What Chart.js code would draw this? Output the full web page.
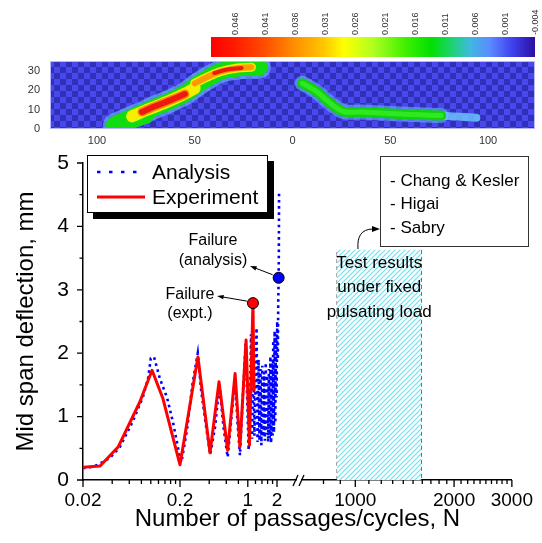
<!DOCTYPE html>
<html><head><meta charset="utf-8">
<script src="https://cdn.jsdelivr.net/npm/chart.js@4.4.1/dist/chart.umd.min.js"></script>
<style>
html,body{margin:0;padding:0;background:#fff;}
#wrap{position:relative;width:542px;height:543px;overflow:hidden;background:#fff;}
#wrap canvas{position:absolute;left:0;}
</style></head><body>
<div id="wrap">
<canvas id="main" width="542" height="543" style="top:0"></canvas>
<canvas id="heat" width="542" height="100" style="top:55px"></canvas>
<canvas id="cb" width="542" height="60" style="top:0"></canvas>
</div>
<script>
// ---------------- DATA ----------------
// Experiment (red solid)
const expX = [0.02,0.03,0.046,0.077,0.103,0.133,0.2,0.306,0.408,0.505,0.62,0.74,0.83,0.96,1.04,1.13,1.16];
const expY = [0.2,0.22,0.52,1.23,1.73,1.29,0.24,1.94,0.43,1.55,0.47,1.68,0.52,2.21,0.55,2.79,1.4];
// Analysis (blue dotted)
const anaX = [0.02,0.0225,0.0285,0.038,0.048,0.065,0.083,0.094,0.1,0.108,0.124,0.147,0.17,0.2,0.207,
  0.236,0.27,0.305,0.33,0.38,0.41,0.46,0.51,0.56,0.62,0.67,0.74,0.78,0.83,0.88,0.95,0.99,1.02,
  1.05,1.08,1.11,1.14,1.17,1.2,1.23,1.26,1.29,1.32,1.35,1.38,1.41,1.44,1.47,1.5,1.53,1.56,1.59,1.62,
  1.65,1.68,1.71,1.74,1.77,1.8,1.83,1.86,1.89,1.92,1.95,1.98,2.01,2.04,2.06,2.08,2.09,2.1];
const anaY = [0.19,0.19,0.24,0.35,0.52,0.92,1.31,1.61,1.92,1.94,1.6,1.3,0.9,0.35,0.28,
  0.79,1.53,2.0,1.42,0.74,0.4,0.84,1.5,0.85,0.36,0.9,1.62,0.95,0.39,1.2,2.15,1.2,0.47,
  1.1,2.3,0.65,2.15,0.7,1.5,2.4,0.6,1.9,0.62,1.75,0.55,1.8,0.68,1.7,0.62,1.85,0.72,1.65,0.6,
  1.75,0.66,1.95,0.58,1.9,0.7,2.2,0.75,2.35,0.9,2.3,1.3,2.5,1.9,2.8,3.19,3.6,4.55];
// Failure points
const failAnalysis = {x: 2.08, y: 3.19};
const failExpt = {x: 1.13, y: 2.79};
// Fixed pulsating load test band (right axis, cycles)
const bandX = [880, 1590];
const bandTop = 3.63;
// Tick values / labels
const yTicks = [0,0.5,1,1.5,2,2.5,3,3.5,4,4.5,5];
const yLabels = [0,1,2,3,4,5];
const xLeftTicks = [0.02,0.04,0.06,0.08,0.1,0.12,0.14,0.16,0.18,0.2,0.4,0.6,0.8,1,1.2,1.4,1.6,1.8,2];
const xLeftLabels = [0.02,0.2,1,2];
const xRightTicks = [800,900,1000,1100,1200,1300,1400,1500,1600,1700,1800,1900,2000,2100,2200,2300,2400,2500,2600,2700,2800,2900,3000];
const xRightLabels = [1000,2000,3000];
// Heat map inset (strain bands), x in mm (-124..124), y in mm (0..35)
const heatXTicks = [-100,-50,0,50,100];
const heatYTicks = [0,10,20,30];
const leftBandX = [-91,-85,-78,-72,-63,-55,-49,-42,-35,-26,-17];
const leftBandY = [2,4.8,7.8,10.5,14.3,18.2,22.6,27,30.3,31.6,31.8];
const leftTailX = [-90,-82,-74];
const leftTailY = [1.5,3,5.5];
const leftYellowX = [-82,-74,-64,-55,-50];
const leftYellowY = [6.5,10,14,18.2,21];
const leftRedX = [-77,-70,-62,-55];
const leftRedY = [8.8,11.8,15,18];
const upYellowX = [-50,-44,-37,-28,-21];
const upYellowY = [23.5,26.5,29.5,31.4,31.8];
const upRedX = [-40,-34,-26];
const upRedY = [28.8,30.5,31.4];
const rightBandX = [5,12,19,26,35,50,65,76];
const rightBandY = [23.5,19.5,13.5,9,8.7,8,7.3,6.9];
const rightTailX = [70,82,94];
const rightTailY = [7.1,6.5,5.8];
// Colour bar
const cbTicks = [0.046,0.041,0.036,0.031,0.026,0.021,0.016,0.011,0.006,0.001,-0.004];
const cbMin = -0.004, cbMax = 0.05;

// ---------------- HELPERS ----------------
Chart.defaults.font.family = '"Liberation Sans", Arial, Helvetica, sans-serif';
Chart.defaults.color = '#000';
const FONT = '"Liberation Sans", Arial, Helvetica, sans-serif';
const pts = (xs, ys) => xs.map((x, i) => ({x, y: ys[i]}));
const noPad = s => { s.paddingLeft = 0; s.paddingRight = 0; s.paddingTop = 0; s.paddingBottom = 0; };

function hatchPattern() {
  const c = document.createElement('canvas'); c.width = 5; c.height = 5;
  const g = c.getContext('2d');
  g.fillStyle = '#ffffff'; g.fillRect(0, 0, 5, 5);
  g.strokeStyle = '#6fe2ee'; g.lineWidth = 1.2;
  g.beginPath();
  g.moveTo(0, 5); g.lineTo(5, 0);
  g.moveTo(-1, 1); g.lineTo(1, -1);
  g.moveTo(4, 6); g.lineTo(6, 4);
  g.stroke();
  return g.createPattern(c, 'repeat');
}
function checkerPattern(ctx) {
  const c = document.createElement('canvas'); c.width = 12; c.height = 12;
  const g = c.getContext('2d');
  g.fillStyle = '#4848ee'; g.fillRect(0, 0, 12, 12);
  g.fillStyle = '#3030b8'; g.fillRect(0, 0, 6, 6); g.fillRect(6, 6, 6, 6);
  return ctx.createPattern(c, 'repeat');
}
function arrow(ctx, x1, y1, x2, y2, head) {
  head = head || 7;
  const a = Math.atan2(y2 - y1, x2 - x1);
  ctx.beginPath(); ctx.moveTo(x1, y1);
  ctx.lineTo(x2 - Math.cos(a) * head * 0.7, y2 - Math.sin(a) * head * 0.7); ctx.stroke();
  ctx.beginPath(); ctx.moveTo(x2, y2);
  ctx.lineTo(x2 - head * Math.cos(a - 0.33), y2 - head * Math.sin(a - 0.33));
  ctx.lineTo(x2 - head * Math.cos(a + 0.33), y2 - head * Math.sin(a + 0.33));
  ctx.closePath(); ctx.fill();
}

// ---------------- MAIN CHART ----------------
const SPLIT_L = 296, SPLIT_R = 302;

const brokenAxis = {
  id: 'brokenAxis',
  afterLayout(chart) {
    const a = chart.chartArea;
    const xL = chart.scales.xL, xR = chart.scales.xR, xT = chart.scales.xT;
    xL.left = a.left; xL.right = SPLIT_L; xL.width = SPLIT_L - a.left;
    xL.top = a.bottom; xL.bottom = a.bottom + 35; xL.height = 35;
    xR.left = SPLIT_R; xR.right = a.right; xR.width = a.right - SPLIT_R;
    xR.top = a.bottom; xR.bottom = a.bottom + 35; xR.height = 35;
    xT.left = a.left; xT.right = a.right; xT.width = a.right - a.left;
    xT.top = a.bottom + 35; xT.bottom = chart.height; xT.height = chart.height - a.bottom - 35;
    [xL, xR, xT].forEach(s => { s._gridLineItems = null; s._labelItems = null; s.configure(); });
  }
};

const tickMarks = {
  id: 'tickMarks',
  afterDraw(chart) {
    const ctx = chart.ctx, y = chart.scales.y;
    ctx.save();
    ctx.strokeStyle = '#000'; ctx.lineWidth = 1.3;
    ctx.beginPath();
    y.ticks.forEach(t => {
      const p = y.getPixelForValue(t.value);
      const len = yLabels.includes(t.value) ? 6 : 3.5;
      ctx.moveTo(y.right - len, p); ctx.lineTo(y.right, p);
    });
    [['xL', xLeftLabels], ['xR', xRightLabels]].forEach(([id, majors]) => {
      const s = chart.scales[id];
      s.ticks.forEach(t => {
        const p = s.getPixelForValue(t.value);
        const len = majors.includes(t.value) ? 7 : 4;
        ctx.moveTo(p, s.top); ctx.lineTo(p, s.top + len);
      });
    });
    ctx.stroke();
    // axis break marks
    const yb = chart.scales.xL.top;
    ctx.lineWidth = 1.3;
    ctx.beginPath();
    ctx.moveTo(SPLIT_L - 3, yb + 6); ctx.lineTo(SPLIT_L + 2, yb - 5);
    ctx.moveTo(SPLIT_R - 3, yb + 6); ctx.lineTo(SPLIT_R + 2, yb - 5);
    ctx.stroke();
    ctx.restore();
  }
};

const boxLegend = {
  id: 'boxLegend',
  afterDraw(chart) {
    const ctx = chart.ctx;
    const L = 87, T = 155, W = 181, H = 58;
    ctx.save();
    ctx.fillStyle = '#000'; ctx.fillRect(L + 6, T + 6, W, H);
    ctx.fillStyle = '#fff'; ctx.fillRect(L, T, W, H);
    ctx.strokeStyle = '#000'; ctx.lineWidth = 1; ctx.strokeRect(L + 0.5, T + 0.5, W - 1, H - 1);
    const items = ['Analysis', 'Experiment'];
    const rows = [172, 197];
    items.forEach((lab, i) => {
      const ds = chart.data.datasets.find(d => d.label === lab);
      ctx.strokeStyle = ds.borderColor; ctx.lineWidth = ds.borderWidth;
      ctx.setLineDash(ds.borderDash ? [3.5, 8.5] : []);
      ctx.beginPath(); ctx.moveTo(L + 10, rows[i]); ctx.lineTo(L + 58, rows[i]); ctx.stroke();
      ctx.setLineDash([]);
      ctx.fillStyle = '#000'; ctx.font = '21px ' + FONT;
      ctx.textAlign = 'left'; ctx.textBaseline = 'middle';
      ctx.fillText(lab, L + 65, rows[i] + 1);
    });
    ctx.restore();
  }
};

const notes = {
  id: 'notes',
  afterDraw(chart) {
    const ctx = chart.ctx, xL = chart.scales.xL, xR = chart.scales.xR, y = chart.scales.y;
    ctx.save();
    ctx.fillStyle = '#000'; ctx.strokeStyle = '#000'; ctx.lineWidth = 1;
    ctx.textAlign = 'center'; ctx.textBaseline = 'middle';
    ctx.font = '16px ' + FONT;
    ctx.fillText('Failure', 213, 241); ctx.fillText('(analysis)', 213, 261);
    ctx.fillText('Failure', 190, 295); ctx.fillText('(expt.)', 190, 314);
    const ax = xL.getPixelForValue(failAnalysis.x), ay = y.getPixelForValue(failAnalysis.y);
    const ex = xL.getPixelForValue(failExpt.x), ey = y.getPixelForValue(failExpt.y);
    arrow(ctx, ax - 6, ay - 3, 250, 266, 7);
    arrow(ctx, ex - 6, ey - 2, 217, 296, 7);
    // Reference box
    ctx.fillStyle = '#fff'; ctx.fillRect(380, 156, 149, 91);
    ctx.strokeStyle = '#333'; ctx.strokeRect(380.5, 156.5, 148, 90);
    ctx.fillStyle = '#000'; ctx.font = '17px ' + FONT; ctx.textAlign = 'left';
    ctx.fillText('- Chang & Kesler', 390, 181);
    ctx.fillText('- Higai', 390, 204);
    ctx.fillText('- Sabry', 390, 228);
    // curved arrow
    ctx.strokeStyle = '#000'; ctx.lineWidth = 1;
    ctx.beginPath(); ctx.moveTo(358, 249);
    ctx.bezierCurveTo(357, 237, 361, 229, 373, 229); ctx.stroke();
    ctx.beginPath(); ctx.moveTo(380, 229); ctx.lineTo(372, 226); ctx.lineTo(372, 232); ctx.closePath(); ctx.fill();
    // band text
    const cx = (xR.getPixelForValue(bandX[0]) + xR.getPixelForValue(bandX[1])) / 2;
    ctx.textAlign = 'center'; ctx.font = '17px ' + FONT;
    ctx.fillText('Test results', cx, 263);
    ctx.fillText('under fixed', cx, 287);
    ctx.fillText('pulsating load', cx, 312);
    ctx.restore();
  }
};

new Chart(document.getElementById('main'), {
  type: 'line',
  data: {
    datasets: [
      {label: 'Failure (analysis)', xAxisID: 'xL', yAxisID: 'y', data: [failAnalysis], showLine: false,
        pointRadius: 5.5, pointBackgroundColor: '#0000ff', pointBorderColor: '#000', pointBorderWidth: 1},
      {label: 'Failure (expt.)', xAxisID: 'xL', yAxisID: 'y', data: [failExpt], showLine: false,
        pointRadius: 5.5, pointBackgroundColor: '#ff0000', pointBorderColor: '#000', pointBorderWidth: 1},
      {label: 'Experiment', xAxisID: 'xL', yAxisID: 'y', data: pts(expX, expY),
        borderColor: '#ff0000', borderWidth: 3, pointRadius: 0, tension: 0, borderJoinStyle: 'round'},
      {label: 'Analysis', xAxisID: 'xL', yAxisID: 'y', data: pts(anaX, anaY),
        borderColor: '#0000ff', borderWidth: 2.6, borderDash: [2.6, 3.6], pointRadius: 0, tension: 0},
      {label: 'Fixed load tests', xAxisID: 'xR', yAxisID: 'y',
        data: [{x: bandX[0], y: bandTop}, {x: bandX[1], y: bandTop}],
        fill: 'origin', backgroundColor: hatchPattern(), borderWidth: 0, pointRadius: 0},
      {label: 'Band edges', xAxisID: 'xR', yAxisID: 'y',
        data: [{x: bandX[0], y: 0}, {x: bandX[0], y: bandTop}, {x: bandX[1], y: null}, {x: bandX[1], y: bandTop}, {x: bandX[1], y: 0}],
        borderColor: '#444', borderWidth: 1, borderDash: [4, 3], pointRadius: 0, spanGaps: false, fill: false}
    ]
  },
  options: {
    responsive: false, animation: false, events: [],
    layout: {padding: {left: 0, top: 163, right: 27, bottom: 0}},
    plugins: {legend: {display: false}, tooltip: {enabled: false}},
    scales: {
      y: {type: 'linear', position: 'left', min: 0, max: 5,
        afterBuildTicks: s => { s.ticks = yTicks.map(v => ({value: v})); },
        ticks: {callback: v => yLabels.includes(v) ? String(v) : '', font: {size: 21}, color: '#000', padding: 14, autoSkip: false},
        grid: {display: true, drawOnChartArea: false, drawTicks: false},
        border: {display: true, color: '#000', width: 1.5},
        title: {display: true, text: 'Mid span deflection, mm', font: {size: 24}, color: '#000', padding: {top: 12, bottom: 0}},
        afterFit: s => { s.width = 83; }
      },
      xL: {type: 'logarithmic', position: 'bottom', min: 0.02, max: 3.14, bounds: 'data',
        afterBuildTicks: s => { s.ticks = xLeftTicks.map(v => ({value: v})); },
        ticks: {callback: v => xLeftLabels.includes(v) ? String(v) : '', font: {size: 19}, color: '#000', padding: 9, autoSkip: false, maxRotation: 0},
        grid: {display: true, drawOnChartArea: false, drawTicks: false},
        border: {display: true, color: '#000', width: 1.5},
        afterFit: s => { s.height = 35; }
      },
      xR: {type: 'logarithmic', position: 'bottom', min: 688, max: 3000, bounds: 'data',
        afterBuildTicks: s => { s.ticks = xRightTicks.map(v => ({value: v})); },
        ticks: {callback: v => xRightLabels.includes(v) ? String(v) : '', font: {size: 19}, color: '#000', padding: 9, autoSkip: false, maxRotation: 0},
        grid: {display: true, drawOnChartArea: false, drawTicks: false},
        border: {display: true, color: '#000', width: 1.5},
        afterFit: s => { s.height = 0; }
      },
      xT: {type: 'linear', position: 'bottom', display: true,
        ticks: {display: false}, grid: {display: false, drawTicks: false}, border: {display: false},
        title: {display: true, text: 'Number of passages/cycles, N', font: {size: 24}, color: '#000', padding: {top: 0, bottom: 9}},
        afterFit: s => { s.height = 28; }
      }
    }
  },
  plugins: [brokenAxis, tickMarks, boxLegend, notes]
});

// ---------------- HEAT MAP INSET ----------------
const heatCanvas = document.getElementById('heat');
const heatBg = {
  id: 'heatBg',
  beforeDatasetsDraw(chart) {
    const a = chart.chartArea, ctx = chart.ctx;
    ctx.save();
    ctx.fillStyle = checkerPattern(ctx);
    ctx.fillRect(a.left, a.top, a.right - a.left, a.bottom - a.top);
    ctx.restore();
  },
  afterDatasetsDraw(chart) {
    const a = chart.chartArea, ctx = chart.ctx;
    ctx.save(); ctx.strokeStyle = '#b8b8ff'; ctx.lineWidth = 1;
    ctx.strokeRect(a.left + 0.5, a.top + 0.5, a.right - a.left - 1, a.bottom - a.top - 1);
    ctx.restore();
  }
};
const band = (xs, ys, color, w) => ({data: pts(xs, ys), borderColor: color, borderWidth: w, pointRadius: 0,
  tension: 0.35, borderCapStyle: 'round', borderJoinStyle: 'round', fill: false, clip: 0});
new Chart(heatCanvas, {
  type: 'line',
  data: {datasets: [
    band(upRedX, upRedY, '#ee1a10', 4),
    band(leftRedX, leftRedY, '#ee1a10', 6),
    band(upYellowX, upYellowY, '#ff9a00', 6),
    band(leftRedX, leftRedY, '#ff8a00', 9),
    band(upYellowX, upYellowY, '#f4f000', 9),
    band(leftYellowX, leftYellowY, '#f4f000', 12),
    band(rightBandX, rightBandY, '#30e820', 5),
    band(leftTailX, leftTailY, '#10dc10', 10),
    band(leftBandX, leftBandY, '#10dc10', 17),
    band(rightBandX, rightBandY, '#10d010', 10),
    band(rightTailX, rightTailY, 'rgba(110,200,255,0.8)', 8),
    band(leftBandX, leftBandY, 'rgba(110,190,255,0.6)', 23),
    band(rightBandX, rightBandY, 'rgba(110,190,255,0.55)', 15)
  ]},
  options: {
    responsive: false, animation: false, events: [],
    layout: {padding: {left: 0, top: 6, right: 7, bottom: 0}},
    plugins: {legend: {display: false}, tooltip: {enabled: false}},
    scales: {
      x: {type: 'linear', min: -124, max: 124,
        afterBuildTicks: s => { s.ticks = heatXTicks.map(v => ({value: v})); },
        ticks: {callback: v => String(Math.abs(v)), font: {size: 11}, color: '#333', padding: 5, maxRotation: 0, autoSkip: false},
        grid: {display: false, drawTicks: false}, border: {display: false},
        afterFit: s => { s.height = 26; noPad(s); }
      },
      y: {type: 'linear', min: 0, max: 35,
        afterBuildTicks: s => { s.ticks = heatYTicks.map(v => ({value: v})); },
        ticks: {font: {size: 11}, color: '#333', padding: 10, autoSkip: false},
        grid: {display: false, drawTicks: false}, border: {display: false},
        afterFit: s => { s.width = 50; noPad(s); }
      }
    }
  },
  plugins: [heatBg]
});

// ---------------- COLOUR BAR ----------------
const cbStops = [[0,'#ff0000'],[0.07,'#ff1a00'],[0.17,'#ff5000'],[0.26,'#ff9000'],[0.35,'#ffc800'],[0.41,'#ffff00'],
  [0.5,'#b0ff20'],[0.6,'#40f000'],[0.68,'#00e000'],[0.75,'#20d080'],[0.8,'#40b8e0'],[0.86,'#5a8cff'],[0.93,'#4040f0'],[1,'#2810a0']];
new Chart(document.getElementById('cb'), {
  type: 'bar',
  data: {labels: [''], datasets: [{data: [[cbMax, cbMin]], borderWidth: 0, barPercentage: 1, categoryPercentage: 1,
    backgroundColor: c => {
      const a = c.chart.chartArea; if (!a) return '#f00';
      const g = c.chart.ctx.createLinearGradient(a.left, 0, a.right, 0);
      cbStops.forEach(s => g.addColorStop(s[0], s[1]));
      return g;
    }}]},
  options: {
    indexAxis: 'y', responsive: false, animation: false, events: [],
    layout: {padding: {left: 211, right: 7, top: 0, bottom: 3}},
    plugins: {legend: {display: false}, tooltip: {enabled: false}},
    scales: {
      x: {type: 'linear', position: 'top', reverse: true, min: cbMin, max: cbMax, bounds: 'data',
        afterBuildTicks: s => { s.ticks = cbTicks.map(v => ({value: v})); },
        ticks: {callback: v => v.toFixed(3), minRotation: 90, maxRotation: 90, font: {size: 9}, color: '#333', padding: 2, autoSkip: false, labelOffset: 11},
        grid: {display: false, drawTicks: false}, border: {display: false},
        afterFit: s => { s.height = 37; noPad(s); }
      },
      y: {display: false}
    }
  }
});
</script>
</body></html>
